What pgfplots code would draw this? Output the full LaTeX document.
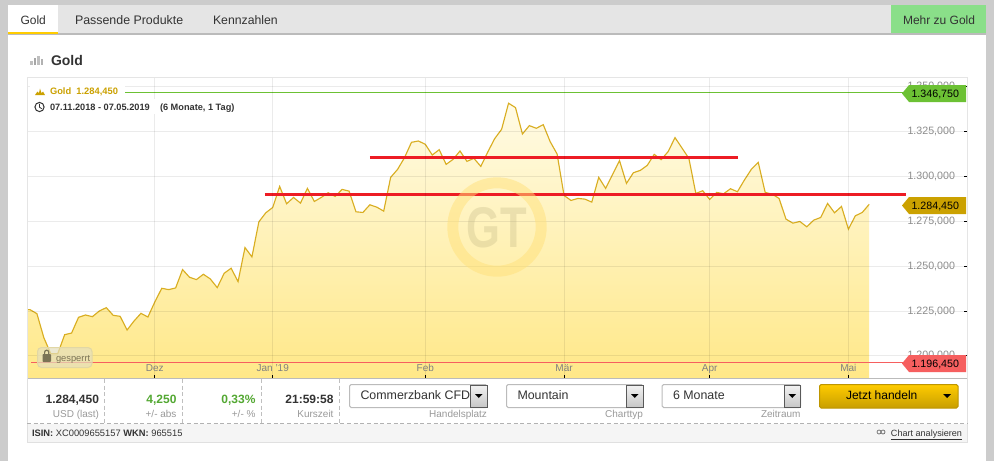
\documentclass[border=0pt]{standalone}
\usepackage{fontspec}
\setmainfont{Liberation Sans}
\usepackage{pgfplots}
\usepackage{pgfplotstable}
\pgfplotsset{compat=1.18}

\definecolor{frame}{HTML}{CCCCCC}
\definecolor{tabbar}{HTML}{E5E5E5}
\definecolor{tabline}{HTML}{BBBBBB}
\definecolor{tabgold}{HTML}{FFCC00}
\definecolor{tabgreen}{HTML}{8ADF89}
\definecolor{goldc}{HTML}{CBA100}
\definecolor{goldline}{HTML}{D9AE22}
\definecolor{greenc}{HTML}{6CC134}
\definecolor{redc}{HTML}{F65F5F}
\definecolor{hline}{HTML}{ED1C24}
\definecolor{txt}{HTML}{333333}
\definecolor{sub}{HTML}{999999}
\definecolor{up}{HTML}{53A832}
\definecolor{mtop}{HTML}{FFFBE6}
\definecolor{mbot}{HTML}{FFE888}
\definecolor{ring}{HTML}{FFE17A}
\definecolor{gtc}{HTML}{B8AE7C}
\definecolor{lockc}{HTML}{7A7355}

\newcommand{\fs}[1]{\fontsize{#1}{#1}\selectfont}

% index = trading day, value = USD
\pgfplotstableread{
i v
-0.43 1225.76
0 1225.76
1 1223.53
2 1210.14
3 1201.21
4 1201.21
5 1211.82
6 1212.75
7 1221.49
8 1222.79
9 1221.86
10 1225.02
11 1226.88
12 1222.6
13 1222.05
14 1214.42
15 1219.44
16 1223.72
17 1221.67
18 1230.05
19 1237.67
20 1236.93
21 1237.86
22 1248.09
23 1243.81
24 1242.51
25 1245.48
26 1242.88
27 1238.04
28 1246.04
29 1248.83
30 1241.39
31 1260.36
32 1255.15
33 1274.69
34 1279.71
35 1282.68
36 1294.40
37 1284.73
38 1288.26
39 1285.1
40 1293.29
41 1286.03
42 1288.26
43 1290.87
44 1288.82
45 1292.73
46 1291.8
47 1280.27
48 1279.9
49 1284.17
50 1282.87
51 1280.64
52 1299.43
53 1303.89
54 1310.4
55 1318.96
56 1319.7
57 1317.84
58 1311.89
59 1314.86
60 1306.68
61 1309.47
62 1314.12
63 1308.35
64 1310.03
65 1305.56
66 1313.56
67 1321
68 1326.21
69 1340.72
70 1338.3
71 1323.6
72 1328.26
73 1326.77
74 1328.8
75 1319.33
76 1312.45
77 1289.38
78 1286.59
79 1287.71
80 1287.33
81 1285.66
82 1299.43
83 1293.29
84 1301.1
85 1308.73
86 1296.08
87 1302.03
88 1303.33
89 1306.12
90 1312.26
91 1309.28
92 1313.75
93 1321.56
94 1315.8
95 1310.03
96 1290.5
97 1291.99
98 1287.15
99 1291.06
100 1290.31
101 1293.1
102 1291.43
103 1297.94
104 1303.89
105 1307.8
106 1291.06
107 1290.13
108 1287.71
109 1276.18
110 1273.94
111 1274.87
112 1271.9
113 1275.62
114 1277.1
115 1284.92
116 1279.71
117 1283.24
118 1270.6
119 1278.04
120 1279.9
121 1284.45
}\golddata

\begin{document}
\begin{tikzpicture}[x=0.75pt,y=-0.75pt,
  txtn/.style={inner sep=0pt,outer sep=0pt,anchor=base west,text=txt},
  txte/.style={inner sep=0pt,outer sep=0pt,anchor=base east,text=txt},
  small/.style={txte,text=sub,font=\fs{7.5}},
  btn/.style={draw=tabline,fill=white,rounded corners=1.2pt,line width=0.75pt}]

\path[use as bounding box] (0,0) rectangle (994,461);
% page frame
\fill[frame] (0,0) rectangle (994,461);
\fill[white] (8,5) rectangle (986,461);
\fill[tabbar] (8,5) rectangle (986,33);
\fill[tabline] (8,33) rectangle (986,34.5);
\fill[white] (8,5) rectangle (58,32);
\fill[tabgold] (8,31.5) rectangle (58,34);
\fill[tabgreen] (891,5) rectangle (986,33);
\node[txtn,font=\fs{9}] at (20.5,24) {Gold};
\node[txtn,font=\fs{9.3}] at (75,24) {Passende Produkte};
\node[txtn,font=\fs{9.2}] at (213,24) {Kennzahlen};
\node[txtn,font=\fs{9}] at (903,24) {Mehr zu Gold};

% title with bar icon
\fill[black!25] (30,61) rectangle (32.5,65);
\fill[black!35] (33.5,58) rectangle (36,65);
\fill[black!25] (37,55.5) rectangle (39.5,65);
\fill[black!30] (40.5,59) rectangle (43,65);
\node[txtn,font=\fs{10.5}\bfseries] at (51,65.5) {Gold};

\coordinate (plotsw) at (27,378);
\begin{axis}[
  at={(plotsw)},anchor=south west,
  scale only axis,width=705pt,height=225.3pt,
  xmin=-0.43,xmax=135.1,ymin=1187.7,ymax=1355.0,
  axis on top,
  axis line style={draw=black!10,line width=0.75pt},
  grid=major,
  grid style={black,opacity=0.08,line width=0.75pt},
  xtick={18,35,57,77,98,118},
  xticklabels={Dez,Jan '19,Feb,Mär,Apr,Mai},
  ytick={1200,1225,1250,1275,1300,1325,1350},
  tick align=inside,
  major tick length=2.2pt,
  tick style={black,line width=0.75pt},
  xtick pos=bottom,ytick pos=right,
  yticklabel pos=right,
  xticklabel style={anchor=base,yshift=5pt,text=black!50,font=\fs{7.5}},
  yticklabel style={anchor=east,xshift=-5.5pt,text=black!45,font=\fs{8},
    /pgf/number format/assume math mode=true,
    /pgf/number format/fixed,/pgf/number format/fixed zerofill,
    /pgf/number format/precision=3,
    /pgf/number format/1000 sep={.},/pgf/number format/dec sep={,}},
  clip=true,
]
  \addplot[draw=none,top color=mtop,bottom color=mbot]
    table[x=i,y=v]{\golddata} \closedcycle;
  \addplot[goldline,line width=0.85pt] table[x=i,y=v]{\golddata};
  \addplot[greenc,line width=0.75pt] coordinates {(13.7,1346.75) (125.9,1346.75)};
  \addplot[redc,line width=0.75pt] coordinates {(0.15,1196.45) (125.9,1196.45)};
  \addplot[hline,line width=2.5pt] coordinates {(49.02,1310.5) (102.1,1310.5)};
  \addplot[hline,line width=2.5pt] coordinates {(33.88,1289.96) (126.3,1289.96)};
\end{axis}

% watermark
\draw[ring,opacity=0.5,line width=8.25pt] (497,227) circle [radius=44.2];
\node[inner sep=0pt,text=gtc,opacity=0.28,font=\fs{43}\bfseries] at (497,227.5) {\scalebox{0.76}[1]{GT}};

% legend patches on the plot
\fill[white] (30,85) rectangle (125,99);
\fill[white] (30,99) rectangle (155,114);
\fill[goldc] (35,95) -- (37.5,91.5) -- (39,93) -- (40,88.5) -- (41.5,93) -- (43,91.5) -- (45,95) -- cycle;
\node[txtn,text=goldc,font=\fs{7}\bfseries] at (50,94) {Gold\ \ 1.284,450};
\draw[txt,line width=0.75pt] (39.5,107) circle [radius=4.6];
\draw[txt,line width=0.6pt] (39.5,103.8) -- (39.5,107.2) -- (41.8,108.8);
\node[txtn,font=\fs{6.9}\bfseries] at (50,110) {07.11.2018 - 07.05.2019};
\node[txtn,font=\fs{6.9}\bfseries] at (160,110) {(6 Monate, 1 Tag)};

% value badges
\fill[greenc] (902,93.5) -- (909,85) -- (966,85) -- (966,102) -- (909,102) -- cycle;
\node[txte,text=black,font=\fs{8}] at (959,97) {1.346,750};
\fill[goldc] (902,205.5) -- (909,197) -- (966,197) -- (966,214) -- (909,214) -- cycle;
\node[txte,text=black,font=\fs{8}] at (959,209) {1.284,450};
\fill[redc] (902,363.5) -- (909,355) -- (966,355) -- (966,372) -- (909,372) -- cycle;
\node[txte,text=black,font=\fs{8}] at (959,367) {1.196,450};

% locked badge
\draw[fill={rgb,255:red,228;green,223;blue,190},fill opacity=0.7,draw={rgb,255:red,225;green,215;blue,165},rounded corners=3pt,line width=0.75pt] (37.5,347.5) rectangle (92,367.5);
\fill[lockc,rounded corners=0.6pt] (42.5,354) rectangle (51,362);
\draw[lockc,line width=0.9pt] (44.6,354) -- (44.6,352.3) arc (180:360:2.1) -- (48.8,354);
\node[txtn,text=lockc,font=\fs{7}] at (56,361) {gesperrt};

% stats row
\fill[tabline] (27,377.7) rectangle (967.5,379);
\fill[black!4] (27,423.5) rectangle (967.5,442);
\draw[black!12,line width=0.75pt] (27,442) -- (967.5,442);
\draw[black!12,line width=0.75pt] (27,378) -- (27,442);
\draw[black!12,line width=0.75pt] (967.5,378) -- (967.5,442);
\draw[black!30,dash pattern=on 3pt off 2pt,line width=0.75pt] (27,423.5) -- (967.5,423.5);
\foreach \xx in {104.5,182.5,261.5,339.5}
  \draw[black!25,dash pattern=on 3pt off 2pt,line width=0.75pt] (\xx,379) -- (\xx,423);

\node[txte,font=\fs{9}\bfseries] at (99,403) {1.284,450};
\node[small] at (99,417) {USD (last)};
\node[txte,text=up,font=\fs{9}\bfseries] at (176.5,403) {4,250};
\node[small] at (176.5,417) {+/- abs};
\node[txte,text=up,font=\fs{9}\bfseries] at (255.5,403) {0,33\%};
\node[small] at (255.5,417) {+/- \%};
\node[txte,font=\fs{9}\bfseries] at (333.5,403) {21:59:58};
\node[small] at (333.5,417) {Kurszeit};

% dropdowns
\foreach \xa/\xb/\lab/\val in {349.5/487/Handelsplatz/Commerzbank CFD,506.5/643/Charttyp/Mountain,662/800.5/Zeitraum/6 Monate}{
  \draw[btn] (\xa,384.5) rectangle (\xb,407.5);
  \node[txtn,font=\fs{9.3}] at ({\xa+11},399.5) {\val};
  \draw[black!65,top color=black!5,bottom color=black!22,line width=0.75pt] ({\xb-16.5},385) rectangle (\xb,407);
  \fill[black] ({\xb-12},394) -- ({\xb-4.5},394) -- ({\xb-8.25},398) -- cycle;
  \node[small] at (\xb,417) {\lab};
}

% trade button
\draw[draw={rgb,255:red,190;green,150;blue,0},top color={rgb,255:red,255;green,204;blue,0},bottom color={rgb,255:red,200;green,158;blue,0},rounded corners=1.2pt,line width=0.75pt] (819.5,384.5) rectangle (958,408);
\node[txtn,font=\fs{9},anchor=base,text=black] at (881.7,399.5) {Jetzt handeln};
\fill[black] (943,394) -- (951,394) -- (947,398) -- cycle;

% footer
\node[txtn,font=\fs{7}] at (32,436) {\textbf{ISIN:} XC0009655157 \textbf{WKN:} 965515};
\node[txte,font=\fs{6.8}] at (962,436) {\underline{Chart analysieren}};
\draw[black!60,line width=0.5pt] (879,432) circle [radius=2];
\draw[black!60,line width=0.5pt] (883,432) circle [radius=2];
\end{tikzpicture}
\end{document}
